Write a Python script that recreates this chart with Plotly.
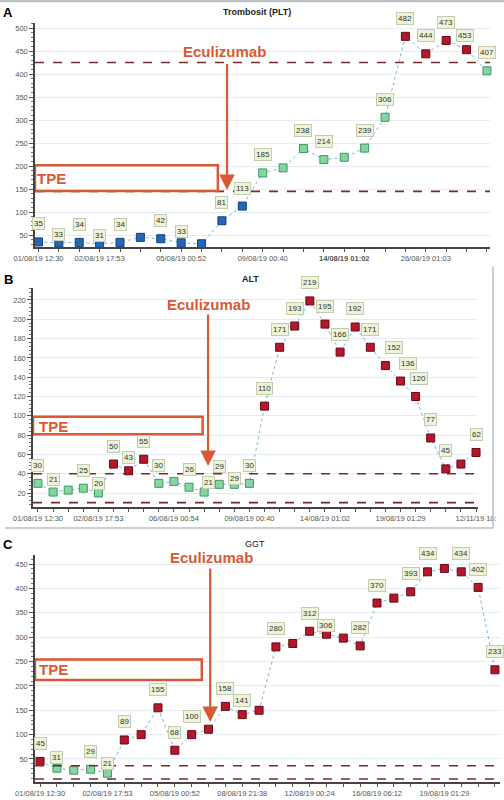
import plotly.graph_objects as go

W, H = 504, 800

# ---------------- DATA ----------------
# Panel A: Trombosit (PLT)
plt_values = [35, 33, 34, 31, 34, 45, 42, 33, 31, 81, 113, 185, 196, 238, 214, 219,
              239, 306, 482, 444, 473, 453, 407]
plt_labeled = [1, 1, 1, 1, 1, 0, 1, 1, 0, 1, 1, 1, 0, 1, 1, 0, 1, 1, 1, 1, 1, 1, 1]
plt_tick_idx = [0, 3, 7, 11, 15, 19]
plt_tick_text = ["01/08/19 12:30", "02/08/19 17:53", "05/08/19 00:52",
                 "09/08/19 00:40", "<b>14/08/19 01:02</b>", "26/08/19 01:03"]
plt_ref_low, plt_ref_high = 145, 425

# Panel B: ALT
alt_values = [30, 21, 23, 25, 20, 50, 43, 55, 30, 32, 26, 21, 29, 29, 30, 110, 171, 193,
              219, 195, 166, 192, 171, 152, 136, 120, 77, 45, 50, 62]
alt_labeled = [1, 1, 0, 1, 1, 1, 1, 1, 1, 0, 1, 1, 1, 1, 1, 1, 1, 1,
               1, 1, 1, 1, 1, 1, 1, 1, 1, 1, 0, 1]
alt_tick_idx = [0, 4, 9, 14, 19, 24, 29]
alt_tick_text = ["01/08/19 12:30", "02/08/19 17:53", "06/08/19 00:54", "09/08/19 00:40",
                 "14/08/19 01:02", "19/08/19 01:29", "12/11/19 10:"]
alt_ref_low, alt_ref_high = 10, 40

# Panel C: GGT
ggt_values = [45, 31, 27, 29, 21, 89, 100, 155, 68, 100, 111, 158, 141, 150, 280, 287,
              312, 306, 298, 282, 370, 380, 393, 434, 441, 434, 402, 233]
ggt_labeled = [1, 1, 0, 1, 1, 1, 0, 1, 1, 1, 0, 1, 1, 0, 1, 0,
               1, 1, 0, 1, 1, 0, 1, 1, 0, 1, 1, 1]
ggt_tick_idx = [0, 4, 8, 12, 16, 20, 24]
ggt_tick_text = ["01/08/19 12:30", "02/08/19 17:53", "05/08/19 00:52", "08/08/19 21:38",
                 "12/08/19 00:24", "16/08/19 06:12", "19/08/19 01:29"]
ggt_ref_low, ggt_ref_high = 9, 36

# treatment markers (x in sample index units)
ecu_x = {"A": 9.25, "B": 11.26, "C": 10.1}

# ---------------- STYLE ----------------
FONT = "Liberation Sans, Arial, sans-serif"
ORANGE = "#d85a34"
DASH_RED = "#7a2a2a"
LINE_BLUE = "#78b6de"
COL = {
    "low": ("#2466b8", "#123f7c"),
    "ok": ("#86d3a4", "#3d9a5f"),
    "high": ("#b3182c", "#6a0a14"),
}


def px_x(a, b):
    return [a / W, b / W]


def px_y(top, bottom):
    return [1 - bottom / H, 1 - top / H]


panels = [
    dict(key="A", sfx="", vals=plt_values, lab=plt_labeled, tidx=plt_tick_idx,
         ttext=plt_tick_text, low=plt_ref_low, high=plt_ref_high,
         xdom=px_x(35, 490), xr=[-0.17, 22.15], ydom=px_y(23, 247), yr=[24, 511],
         ytick=list(range(50, 501, 50)), minor=10,
         shifts={1: (0, 8), 3: (0, 8), 7: (0, 11), 21: (-2, 14)},
         tpe=(-0.17, 8.8, 145.6, 202), tpe_txt=(0.66, 173),
         ecu=(ecu_x["A"], 148, 425), ecu_txt=(9.15, 448)),
    dict(key="B", sfx="2", vals=alt_values, lab=alt_labeled, tidx=alt_tick_idx,
         ttext=alt_tick_text, low=alt_ref_low, high=alt_ref_high,
         xdom=px_x(33, 478), xr=[-0.33, 29.13], ydom=px_y(288, 507), yr=[5.5, 232.4],
         ytick=list(range(20, 221, 20)), minor=4,
         shifts={1: (0, 13), 4: (0, 10), 6: (0, 13), 11: (4, 10), 13: (0, 6),
                 23: (9, 18), 24: (7, 18), 25: (3, 18)},
         tpe=(-0.33, 10.9, 81, 99), tpe_txt=(1.0, 89),
         ecu=(ecu_x["B"], 48, 206.5), ecu_txt=(11.3, 215)),
    dict(key="C", sfx="3", vals=ggt_values, lab=ggt_labeled, tidx=ggt_tick_idx,
         ttext=ggt_tick_text, low=ggt_ref_low, high=ggt_ref_high,
         xdom=px_x(35, 500), xr=[-0.3, 27.3], ydom=px_y(555, 782), yr=[2.8, 468.5],
         ytick=list(range(50, 451, 50)), minor=10,
         shifts={1: (0, 11), 4: (0, 10), 12: (0, 14), 17: (0, 9)},
         tpe=(-0.3, 9.6, 212, 254), tpe_txt=(0.8, 233),
         ecu=(ecu_x["C"], 126, 444), ecu_txt=(10.2, 464)),
]

fig = go.Figure()
annotations = []
shapes = []
layout = {}

for p in panels:
    sfx = p["sfx"]
    xref = "x" + sfx
    yref = "y" + sfx
    n = len(p["vals"])
    idx = list(range(n))
    cats = ["low" if v < p["low"] else ("high" if v > p["high"] else "ok") for v in p["vals"]]
    fig.add_trace(go.Scatter(
        x=idx, y=p["vals"], xaxis=xref, yaxis=yref, mode="lines+markers",
        line=dict(color=LINE_BLUE, width=1, dash="dot"),
        marker=dict(symbol="square", size=8,
                    color=[COL[c][0] for c in cats],
                    line=dict(color=[COL[c][1] for c in cats], width=1)),
        showlegend=False, hoverinfo="x+y", cliponaxis=False))

    # reference lines
    for lv in (p["low"], p["high"]):
        shapes.append(dict(type="line", xref=xref + " domain", yref=yref,
                           x0=0, x1=1, y0=lv, y1=lv,
                           line=dict(color=DASH_RED, width=1.6, dash="dash")))

    # value labels
    for i, (v, show) in enumerate(zip(p["vals"], p["lab"])):
        if not show:
            continue
        dx, dy = p["shifts"].get(i, (0, 18))
        annotations.append(dict(
            x=i, y=v, xref=xref, yref=yref, text=str(v), showarrow=False,
            xshift=dx, yshift=dy, font=dict(family=FONT, size=8, color="#333333"),
            bgcolor="#eef4d8", bordercolor="#c4ccb0", borderwidth=1, borderpad=1))

    # TPE box
    x0, x1, y0, y1 = p["tpe"]
    shapes.append(dict(type="rect", xref=xref, yref=yref, x0=x0, x1=x1, y0=y0, y1=y1,
                       line=dict(color=ORANGE, width=2.5)))
    annotations.append(dict(x=p["tpe_txt"][0], y=p["tpe_txt"][1], xref=xref, yref=yref,
                            text="<b>TPE</b>", showarrow=False,
                            font=dict(family=FONT, size=15, color=ORANGE)))

    # Eculizumab arrow
    ex, ytip, ytop = p["ecu"]
    annotations.append(dict(x=ex, y=ytip, xref=xref, yref=yref, ax=ex, ay=ytop,
                            axref=xref, ayref=yref, text="", showarrow=True,
                            arrowhead=2, arrowsize=1.4, arrowwidth=2.2,
                            arrowcolor=ORANGE))
    annotations.append(dict(x=p["ecu_txt"][0], y=p["ecu_txt"][1], xref=xref, yref=yref,
                            text="<b>Eculizumab</b>", showarrow=False,
                            font=dict(family=FONT, size=15, color=ORANGE)))

    ticktext = [""] * n
    for ti, tt in zip(p["tidx"], p["ttext"]):
        ticktext[ti] = tt
    layout["xaxis" + sfx] = dict(
        domain=p["xdom"], range=p["xr"], anchor=yref, tickmode="array",
        tickvals=idx, ticktext=ticktext, ticks="outside", ticklen=3,
        tickcolor="#555555", showline=True, linecolor="#444444", linewidth=1.5,
        showgrid=False, zeroline=False, automargin=False,
        tickfont=dict(family=FONT, size=7.5, color="#555555"), tickangle=0)
    layout["yaxis" + sfx] = dict(
        domain=p["ydom"], range=p["yr"], anchor=xref, tickmode="array",
        tickvals=p["ytick"], ticks="outside", ticklen=4, tickcolor="#555555",
        showline=True, linecolor="#444444", linewidth=1.5, showgrid=True,
        gridcolor="#e3edf3", gridwidth=1, zeroline=False, automargin=False,
        tickfont=dict(family=FONT, size=7.5, color="#555555"),
        minor=dict(ticks="outside", ticklen=2, dtick=p["minor"], tickcolor="#777777",
                   showgrid=False))

# panel letters and titles
for letter, ypx, title, tx, bold in [("A", 12, "Trombosit (PLT)", 257, True),
                                     ("B", 279, "ALT", 250, True),
                                     ("C", 544, "GGT", 255, False)]:
    annotations.append(dict(x=8 / W, y=1 - ypx / H, xref="paper", yref="paper",
                            text="<b>" + letter + "</b>", showarrow=False,
                            xanchor="center", yanchor="middle",
                            font=dict(family=FONT, size=13, color="#000000")))
    annotations.append(dict(x=tx / W, y=1 - ypx / H, xref="paper", yref="paper",
                            text=("<b>" + title + "</b>") if bold else title,
                            showarrow=False, xanchor="center", yanchor="middle",
                            font=dict(family=FONT, size=9, color="#222222")))

# panel frame lines
FRAME = "#b9c1c1"
shapes.append(dict(type="line", xref="paper", yref="paper", x0=0, x1=1,
                   y0=1 - 1 / H, y1=1 - 1 / H, line=dict(color=FRAME, width=2.5)))
shapes.append(dict(type="line", xref="paper", yref="paper", x0=5 / W, x1=493 / W,
                   y0=1 - 528 / H, y1=1 - 528 / H, line=dict(color=FRAME, width=1.5)))
shapes.append(dict(type="line", xref="paper", yref="paper", x0=493 / W, x1=493 / W,
                   y0=1 - 528 / H, y1=1 - 266 / H, line=dict(color=FRAME, width=1.5)))

fig.update_layout(
    width=W, height=H, margin=dict(l=0, r=0, t=0, b=0, autoexpand=False),
    paper_bgcolor="white", plot_bgcolor="white",
    font=dict(family=FONT), annotations=annotations, shapes=shapes,
    showlegend=False, **layout)

fig.write_html(
    "out.html",
    config={"displayModeBar": False},
    post_script="document.body.style.margin='0px';document.body.style.overflow='hidden';")
